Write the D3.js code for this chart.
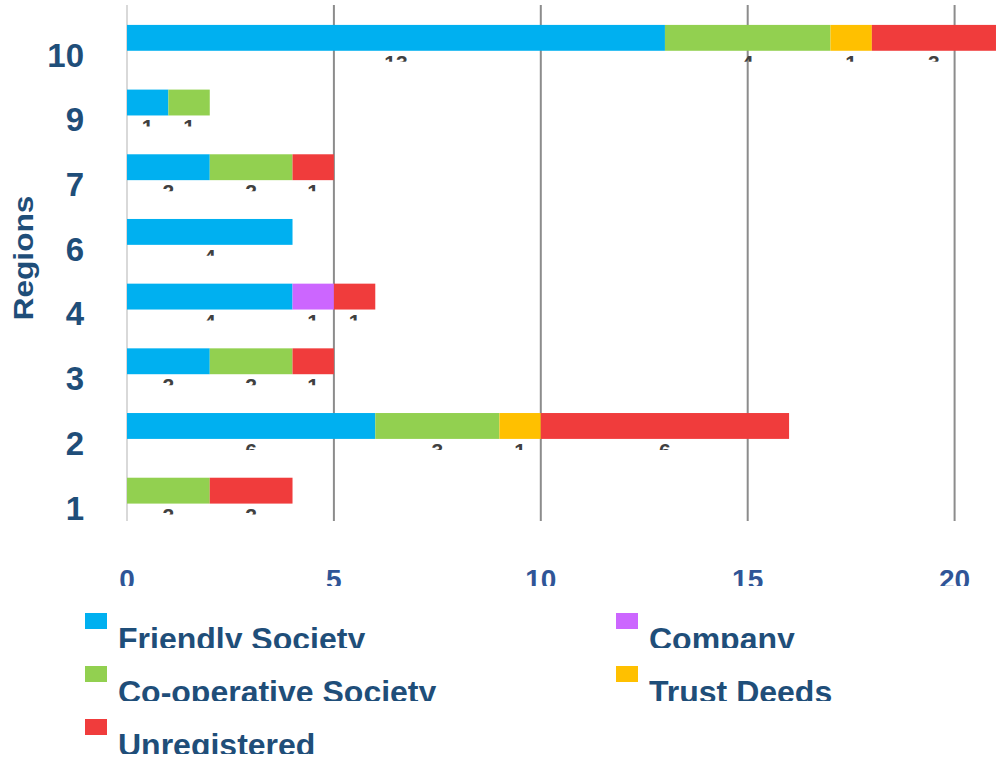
<!DOCTYPE html>
<html><head><meta charset="utf-8">
<script src="https://cdn.jsdelivr.net/npm/d3@7"></script>
<style>body{margin:0;background:#fff;}svg{display:block;}text{font-family:"Liberation Sans",Arial,sans-serif;font-weight:bold;}</style>
</head><body>
<script>
const categories = ["10","9","7","6","4","3","2","1"];
const seriesNames = ["Friendly Society","Co-operative Society","Company","Trust Deeds","Unregistered"];
const friendly   = [13,1,2,4,4,2,6,0];
const cooperative= [4,1,2,0,0,2,3,2];
const company    = [0,0,0,0,1,0,0,0];
const trustDeeds = [1,0,0,0,0,0,1,0];
const unregistered=[3,0,1,0,1,1,6,2];
const xTicks = [0,5,10,15,20];
const colors = ["#00B0F0","#92D050","#CC66FF","#FFC000","#F03C3C"];
const legendOrder = [["Friendly Society","Company"],["Co-operative Society","Trust Deeds"],["Unregistered"]];

const W=996,H=761;
const svg=d3.select("body").append("svg").attr("width",W).attr("height",H);
const defs=svg.append("defs");
const x=d3.scaleLinear().domain([0,25]).range([127,127+25*41.38]);
const y=d3.scaleBand().domain(categories).range([5.5,523]).paddingInner(0.6).paddingOuter(0.3);

const seriesVals=[friendly,cooperative,company,trustDeeds,unregistered];
const rows=categories.map((c,i)=>{const r={cat:c};seriesNames.forEach((s,j)=>r[s]=seriesVals[j][i]);return r;});
const stack=d3.stack().keys(seriesNames)(rows);

// gridlines
svg.append("g").selectAll("line").data(xTicks).join("line")
  .attr("x1",d=>x(d)).attr("x2",d=>x(d)).attr("y1",5).attr("y2",521)
  .attr("stroke",d=>d===0?"#d9d9d9":"#8c8c8c").attr("stroke-width",2);

// bars
stack.forEach((layer,j)=>{
  svg.append("g").attr("fill",colors[j]).selectAll("rect")
    .data(layer.filter(d=>d[1]-d[0]>0)).join("rect")
    .attr("x",d=>x(d[0])).attr("width",d=>x(d[1])-x(d[0]))
    .attr("y",d=>y(d.data.cat)).attr("height",y.bandwidth());
});

// value labels (clipped)
categories.forEach((c,i)=>{
  const bottom=y(c)+y.bandwidth();
  defs.append("clipPath").attr("id","clipv"+i).append("rect")
    .attr("x",0).attr("y",0).attr("width",W).attr("height",bottom+11);
  const g=svg.append("g").attr("clip-path","url(#clipv"+i+")");
  stack.forEach((layer,j)=>{
    const d=layer[i];
    if(d[1]-d[0]>0){
      g.append("text").attr("x",(x(d[0])+x(d[1]))/2).attr("y",bottom+19)
        .attr("text-anchor","middle").attr("font-size",21).attr("fill","#404040")
        .text(d[1]-d[0]);
    }
  });
});

// y axis labels
svg.append("g").selectAll("text").data(categories).join("text")
  .attr("x",84).attr("y",d=>y(d)+y.bandwidth()/2+17).attr("dy","0.36em")
  .attr("text-anchor","end").attr("font-size",33).attr("fill","#1F4E79").text(d=>d);

svg.append("text").attr("transform","translate(33,258) rotate(-90)")
  .attr("text-anchor","middle").attr("font-size",27).attr("fill","#1F4E79")
  .attr("textLength",125).attr("lengthAdjust","spacingAndGlyphs").text("Regions");

// x tick labels (clipped)
defs.append("clipPath").attr("id","clipx").append("rect").attr("x",0).attr("y",0).attr("width",W).attr("height",586);
svg.append("g").attr("clip-path","url(#clipx)").selectAll("text").data(xTicks).join("text")
  .attr("x",d=>x(d)).attr("y",589).attr("text-anchor","middle")
  .attr("font-size",28).attr("fill","#2F5597").text(d=>d);

// legend
const colX=[85,616];
legendOrder.forEach((row,ri)=>{
  const top=613+ri*53;
  defs.append("clipPath").attr("id","clipl"+ri).append("rect").attr("x",0).attr("y",0).attr("width",W).attr("height",top+35);
  row.forEach((name,ci)=>{
    const k=seriesNames.indexOf(name);
    svg.append("rect").attr("x",colX[ci]).attr("y",top).attr("width",22).attr("height",16).attr("fill",colors[k]);
    svg.append("g").attr("clip-path","url(#clipl"+ri+")").append("text")
      .attr("x",colX[ci]+33).attr("y",top+37).attr("font-size",32).attr("fill","#1F4E79").text(name);
  });
});
</script>
</body></html>
